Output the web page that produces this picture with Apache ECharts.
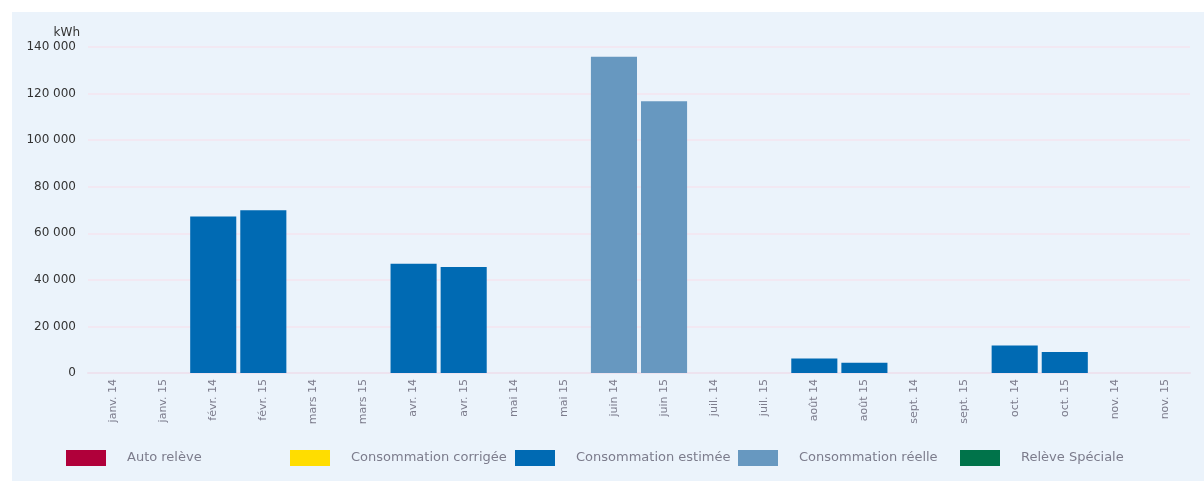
<!DOCTYPE html>
<html>
<head>
<meta charset="utf-8">
<script src="https://cdn.jsdelivr.net/npm/echarts@6/dist/echarts.min.js"></script>
<style>
html,body{margin:0;padding:0;background:#fff;}
#c{position:absolute;left:12px;top:12px;width:1192px;height:469px;background:#EBF3FB;}
</style>
</head>
<body>
<div id="c"></div>
<script>
var categories = ['janv. 14','janv. 15','févr. 14','févr. 15','mars 14','mars 15','avr. 14','avr. 15','mai 14','mai 15','juin 14','juin 15','juil. 14','juil. 15','août 14','août 15','sept. 14','sept. 15','oct. 14','oct. 15','nov. 14','nov. 15'];
var autoReleve = [null,null,null,null,null,null,null,null,null,null,null,null,null,null,null,null,null,null,null,null,null,null];
var corrigee = [null,null,null,null,null,null,null,null,null,null,null,null,null,null,null,null,null,null,null,null,null,null];
var estimee = [null,null,67200,69900,null,null,46900,45500,null,null,null,null,null,null,6200,4400,null,null,11800,9000,null,null];
var reelle = [null,null,null,null,null,null,null,null,null,null,135800,116700,null,null,null,null,null,null,null,null,null,null];
var speciale = [null,null,null,null,null,null,null,null,null,null,null,null,null,null,null,null,null,null,null,null,null,null];
var seriesNames = ['Auto relève','Consommation corrigée','Consommation estimée','Consommation réelle','Relève Spéciale'];
var seriesColors = ['#B0003A','#FFDD00','#006AB3','#6798C0','#00734A'];
var seriesData = [autoReleve, corrigee, estimee, reelle, speciale];
var legendLeft = [49, 273, 498, 721, 943];

var chart = echarts.init(document.getElementById('c'));
var series = seriesNames.map(function(n,i){
  return {
    name:n, type:'bar', stack:'total', data:seriesData[i],
    itemStyle:{color:seriesColors[i]},
    barCategoryGap:'8%'
  };
});
var legends = seriesNames.map(function(n,i){
  return {
    left:legendLeft[i], top:433, itemWidth:40, itemHeight:16, icon:'rect',
    textStyle:{color:'#7C7C8C', fontSize:13, padding:[0,0,0,16], fontFamily:'DejaVu Sans'},
    data:[n]
  };
});
chart.setOption({
  animation:false,
  textStyle:{fontFamily:'DejaVu Sans'},
  grid:{left:76,right:14,top:35,bottom:108,containLabel:false},
  legend:legends,
  xAxis:{
    type:'category', data:categories,
    axisLine:{lineStyle:{color:'#EDE3EF', width:2}},
    axisTick:{show:false},
    axisLabel:{rotate:90, color:'#7C7C8C', fontSize:11, margin:6, interval:0}
  },
  yAxis:{
    type:'value', min:0, max:140000, interval:20000,
    name:'kWh', nameLocation:'end', nameGap:8,
    nameTextStyle:{color:'#333', fontSize:12, align:'right', padding:[0,8,0,0]},
    axisLine:{show:false}, axisTick:{show:false},
    axisLabel:{color:'#333', fontSize:12, margin:12,
      formatter:function(v){return String(v).replace(/\B(?=(\d{3})+(?!\d))/g,' ');}},
    splitLine:{lineStyle:{color:'#F2E8F2', width:2}}
  },
  series:series
});
</script>
</body>
</html>
